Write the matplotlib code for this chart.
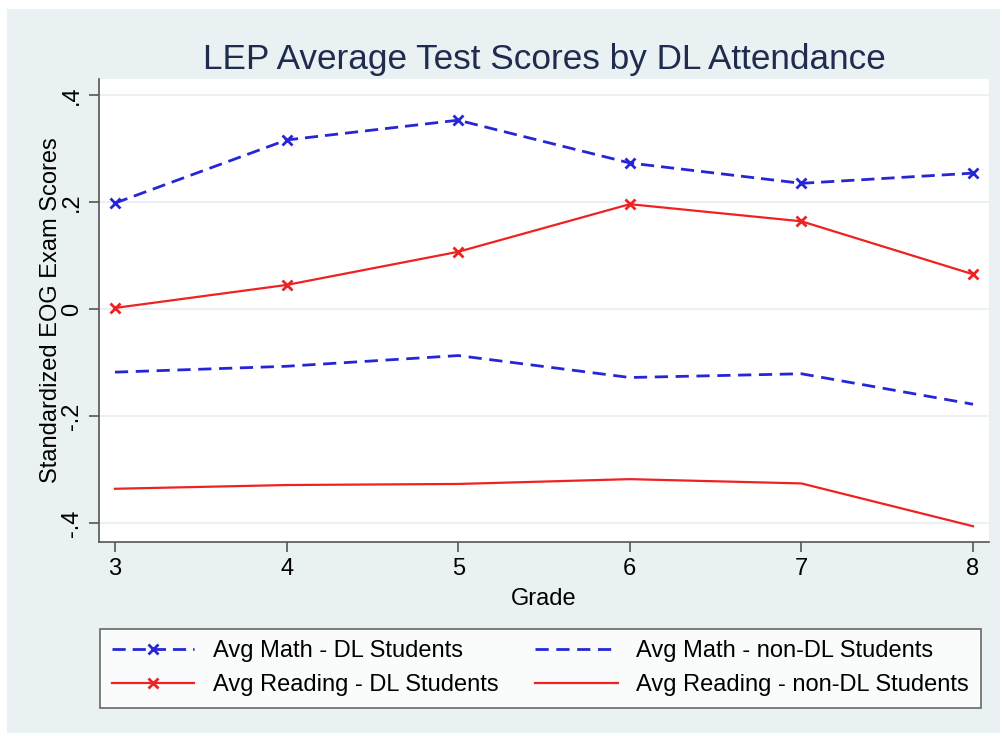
import numpy as np
from matplotlib import pyplot as plt
from matplotlib.patches import Rectangle

plt.rcParams['font.family'] = ['Liberation Sans', 'DejaVu Sans']
plt.rcParams['lines.scale_dashes'] = False

grades = [3, 4, 5, 6, 7, 8]
math_dl = [0.198, 0.316, 0.353, 0.273, 0.235, 0.254]
read_dl = [0.002, 0.045, 0.107, 0.196, 0.164, 0.065]
math_nondl = [-0.118, -0.107, -0.087, -0.128, -0.121, -0.178]
read_nondl = [-0.336, -0.329, -0.327, -0.318, -0.326, -0.406]

yticks = [-0.4, -0.2, 0, 0.2, 0.4]
ytick_labels = ['-.4', '-.2', '0', '.2', '.4']

blue = '#2626d6'
red = '#ee2222'
bg = '#eaf1f3'

fig = plt.figure(figsize=(10.03, 7.36), dpi=100)
fig.patch.set_facecolor('white')
fig.patches.append(Rectangle((7/1003, 3/736), 993/1003, 724/736, transform=fig.transFigure,
                             facecolor=bg, edgecolor='none', zorder=-10))

ax = fig.add_axes([99/1003, 1-542/736, 890/1003, 463/736])
ax.set_facecolor('white')

ax.plot(grades, math_dl, color=blue, lw=2.0, dashes=(9.5, 5), marker='x', ms=7, mew=2,
        label='Avg Math - DL Students')
ax.plot(grades, math_nondl, color=blue, lw=2.0, dashes=(9.5, 5.5),
        label='Avg Math - non-DL Students')
ax.plot(grades, read_dl, color=red, lw=1.6, marker='x', ms=7, mew=2,
        label='Avg Reading - DL Students')
ax.plot(grades, read_nondl, color=red, lw=1.6,
        label='Avg Reading - non-DL Students')

ax.set_xlim(2.907, 8.093)
ax.set_ylim(-0.4355, 0.43)
ax.set_xticks(grades)
ax.set_yticks(yticks)
ax.set_yticklabels(ytick_labels, rotation=90, va='center')
ax.grid(axis='y', color='#e8eff1', lw=1.2)
ax.set_axisbelow(True)

for s in ['top', 'right']:
    ax.spines[s].set_visible(False)
for s in ['left', 'bottom']:
    ax.spines[s].set_color('#555555')
    ax.spines[s].set_linewidth(1.2)
ax.tick_params(axis='both', labelsize=17, length=7.5, width=1.2, color='#555555', pad=4)

ax.set_xlabel('Grade', fontsize=17, labelpad=6)
ax.set_ylabel('Standardized EOG Exam Scores', fontsize=17)
ax.yaxis.set_label_coords(-0.042, 0.5)
ax.set_title('LEP Average Test Scores by DL Attendance', fontsize=25.3, color='#1f2c4f', pad=7)

handles, labels = ax.get_legend_handles_labels()
order = [0, 2, 1, 3]
leg = fig.legend([handles[i] for i in order], [labels[i] for i in order],
                 ncol=2, loc='lower left',
                 bbox_to_anchor=(100/1003, 1-708/736, 881/1003, 86/736),
                 mode='expand', borderaxespad=0, fontsize=17, handlelength=3.5,
                 handletextpad=0.8, borderpad=0.5, labelspacing=0.5, columnspacing=1.2,
                 fancybox=False, frameon=True)
leg.get_frame().set_edgecolor('#444444')
leg.get_frame().set_linewidth(1.2)
leg.get_frame().set_facecolor('white')

plt.savefig('out.png', dpi=100, facecolor=fig.get_facecolor())
